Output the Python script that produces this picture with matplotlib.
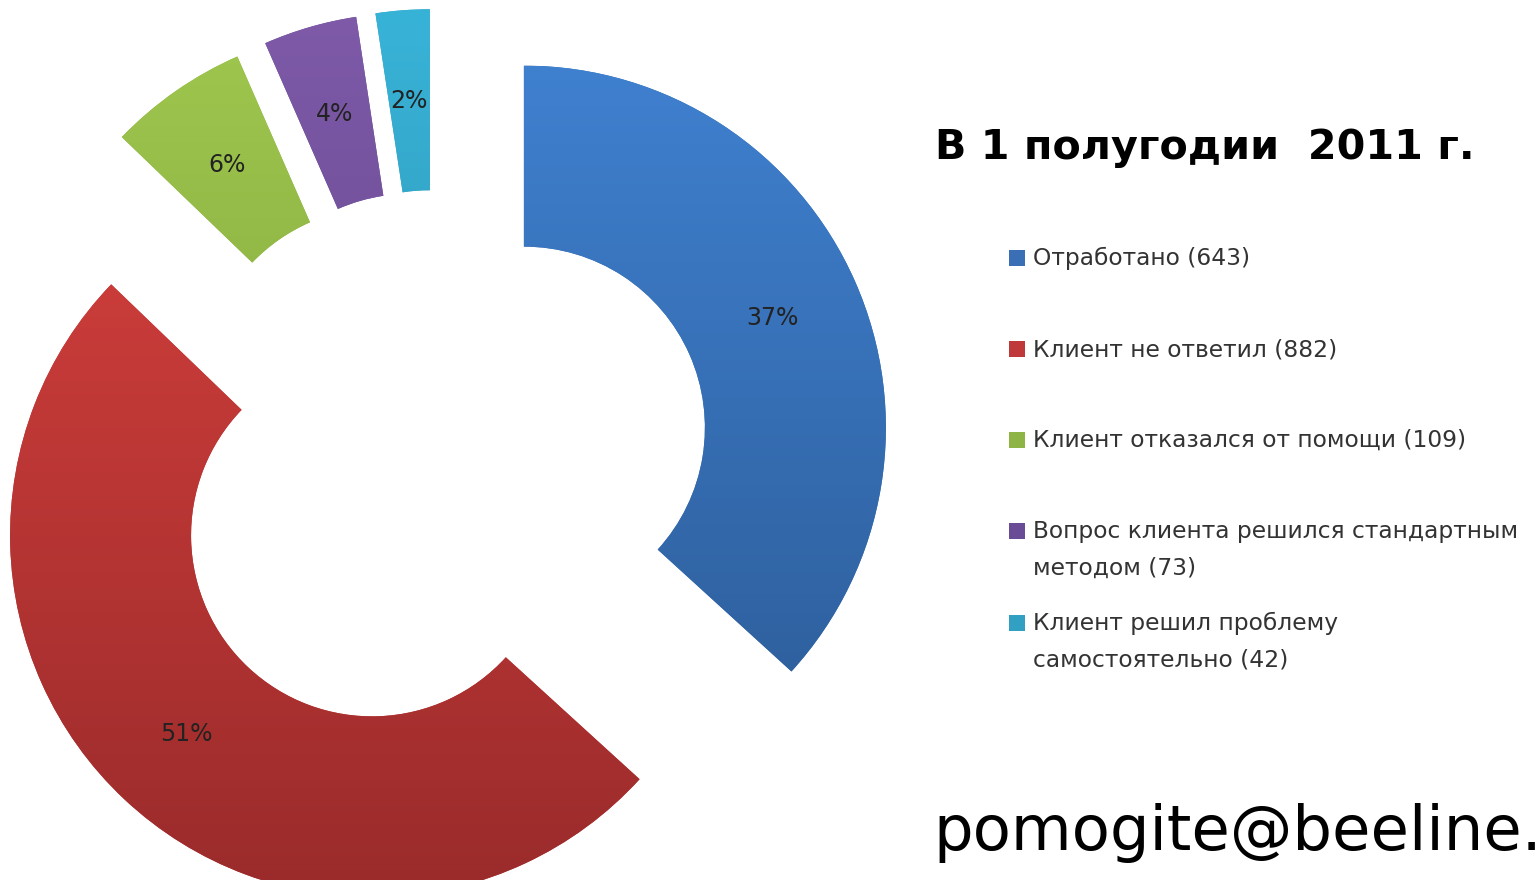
import numpy as np
import matplotlib.pyplot as plt
import matplotlib.colors as mcolors

# data
categories = ["Отработано (643)",
              "Клиент не ответил (882)",
              "Клиент отказался от помощи (109)",
              "Вопрос клиента решился стандартным\nметодом (73)",
              "Клиент решил проблему\nсамостоятельно (42)"]
counts = [643, 882, 109, 73, 42]
pct_labels = ["37%", "51%", "6%", "4%", "2%"]

# top / bottom colours of the gradient fill
top_colors = ["#3f80cf", "#d23f3c", "#9fc74e", "#7e5aa8", "#38b3d8"]
bottom_colors = ["#2c5b96", "#9a2b2b", "#799b38", "#5b3f83", "#2a8aa6"]
legend_colors = ["#3a6fb5", "#c0393a", "#8db444", "#6a4c96", "#31a0c2"]

W, H = 1539, 880
fig = plt.figure(figsize=(W / 100, H / 100), dpi=100)
ax = fig.add_axes([0, 0, 1, 1])

cx, cy = 437, H - 466
R = 362
wedges, texts = ax.pie(counts, radius=R, center=(cx, cy), startangle=90,
                       counterclock=False, explode=[95] * len(counts),
                       colors=legend_colors,
                       wedgeprops=dict(width=R * 0.5, linewidth=0))
ax.set_aspect('auto')
ax.axis('off')

# vertical gradient clipped to each wedge
for w, c1, c2 in zip(wedges, top_colors, bottom_colors):
    cmap = mcolors.LinearSegmentedColormap.from_list('g', [c2, c1])
    x0, y0 = w.center
    grad = np.linspace(0, 1, 256).reshape(-1, 1)
    im = ax.imshow(grad, cmap=cmap, origin='lower', aspect='auto',
                   extent=[x0 - R, x0 + R, y0 - R, y0 + R], zorder=2)
    im.set_clip_path(w)

# percentage labels inside the wedges
total = float(sum(counts))
theta = 90.0
for w, lab, v in zip(wedges, pct_labels, counts):
    frac = v / total * 360
    mid = np.radians(theta - frac / 2)
    theta -= frac
    x0, y0 = w.center
    ax.text(x0 + 0.75 * R * np.cos(mid), y0 + 0.75 * R * np.sin(mid), lab,
            ha='center', va='center', fontsize=17, color='#222222', zorder=5)

ax.set_xlim(0, W)
ax.set_ylim(0, H)

# title
ax.text(935, H - 148, "В 1 полугодии  2011 г.", fontsize=29.7, fontweight='bold',
        ha='left', va='center', color='black')

# legend
legend_y = [258, 349, 440, 531, 623]
for lab, col, y in zip(categories, legend_colors, legend_y):
    ax.scatter([1017], [H - y], marker='s', s=135, color=col, zorder=5,
               linewidths=0)
    ax.text(1033, H - y + 11, lab, fontsize=16.8, ha='left', va='top',
            color='#333333', linespacing=1.75)

ax.text(933, H - 850, "pomogite@beeline.", fontsize=45, ha='left',
        va='baseline', color='black')

fig.savefig('out.png', dpi=100)
